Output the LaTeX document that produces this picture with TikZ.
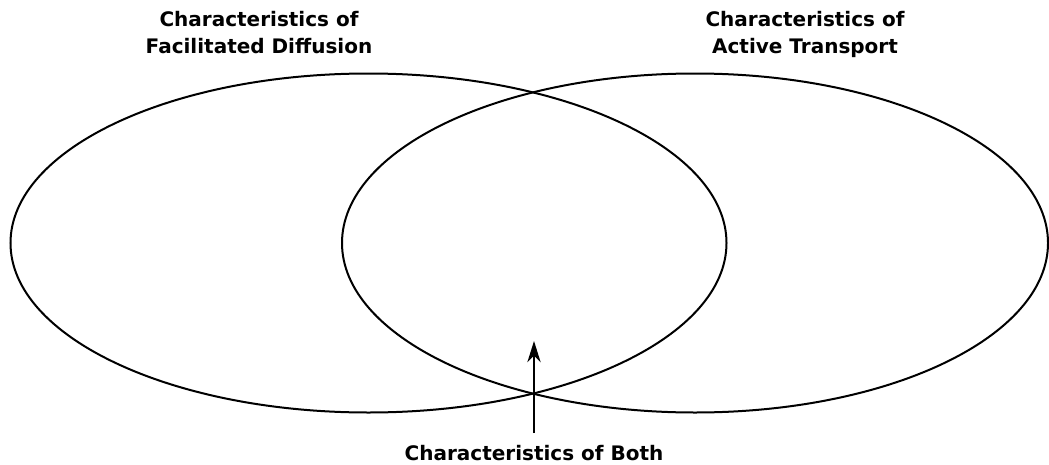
\documentclass[tikz,border=0pt]{standalone}
\usepackage{fontspec}
\setmainfont{DejaVu Sans}
\usetikzlibrary{arrows.meta}
\begin{document}
\begin{tikzpicture}[x=0.75pt,y=-0.75pt,
  lab/.style={font=\bfseries\fontsize{15}{20.25}\selectfont, align=center, inner sep=0pt},
  ring/.style={line width=1.5pt},
  pointer/.style={line width=1.5pt,-{Stealth[length=16pt,width=10pt,inset=5pt]}}]
\useasboundingbox (0,0) rectangle (1049,464);
\draw[ring] (368.5,243) ellipse [x radius=358, y radius=169.5];
\draw[ring] (695,243) ellipse [x radius=353, y radius=169.5];
\node[lab, anchor=north] (fd) at (259,11) {Characteristics of\\Facilitated Diffusion};
\node[lab, anchor=north] (at) at (805,11) {Characteristics of\\Active Transport};
\node[lab, anchor=base] (both) at (534,460) {Characteristics of Both};
\coordinate (tail) at (534,433);
\coordinate (tip) at (534,341);
\draw[pointer] (tail) -- (tip);
\end{tikzpicture}
\end{document}
